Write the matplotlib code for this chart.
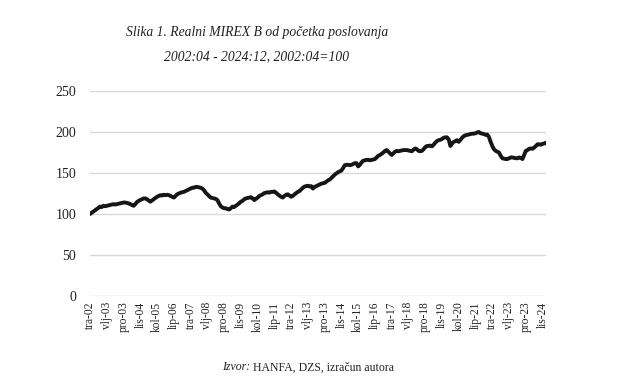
import matplotlib
matplotlib.use("Agg")
import matplotlib.pyplot as plt
import numpy as np

y2002 = [100, 101.5, 103, 104.5, 106, 107.5, 109, 108.5, 110]
y2003 = [109.5, 110, 110.5, 111, 111.5, 112, 111.5, 112, 112.5, 113, 113.5, 114]
y2004 = [114, 113.5, 113, 112, 111, 110, 112, 114.5, 116, 117, 118, 119]
y2005 = [119, 118, 116.5, 115, 116.5, 118, 119.5, 121, 122, 123, 122.5, 123.5]
y2006 = [123, 123.5, 123, 122, 121, 120, 122, 124, 125, 126, 126.5, 127]
y2007 = [128, 129, 130, 131, 132, 132, 133, 133, 132.5, 132, 131, 129]
y2008 = [126, 124, 122, 120, 119.5, 119, 118.5, 117, 113, 109.5, 108, 107]
y2009 = [107, 106, 105.5, 107, 109, 108.5, 110, 111.5, 113, 115, 116, 118]
y2010 = [119, 119.5, 120, 120.5, 119, 117, 118.5, 120, 122, 123, 124, 125.5]
y2011 = [126, 126.5, 126, 127, 127, 127.5, 126, 124, 122.5, 121, 120, 122]
y2012 = [123.5, 124, 122.5, 121, 122, 124, 125.5, 127, 128, 130, 132, 133.5]
y2013 = [134, 134.5, 133.5, 134, 131, 133, 134, 135, 136, 137, 137.5, 138]
y2014 = [139.5, 141, 142, 144, 146, 148, 149.5, 151, 152, 153, 156, 159.5]
y2015 = [160, 160, 159.5, 160, 161, 162, 162, 158, 160, 163, 165, 165.5]
y2016 = [166, 166, 165.5, 166, 166.5, 167, 169, 171, 172, 173.5, 175, 177]
y2017 = [178, 176, 174, 172, 174, 176, 177, 176.5, 177, 177.5, 178, 178]
y2018 = [178, 177.5, 177, 176.5, 178.5, 180, 179, 177, 176.5, 177, 179, 181.5]
y2019 = [183, 183, 183.5, 182.5, 184.5, 187, 189, 190, 190.5, 191.5, 193, 193.5]
y2020 = [193.5, 191, 183, 186, 188, 189, 190, 188, 190.5, 193, 195, 196]
y2021 = [196.5, 197, 197.5, 198, 198, 198.5, 199.5, 200, 198.5, 198, 197.5, 196.5]
y2022 = [197, 194, 188, 183, 179, 177, 176, 175, 171, 168, 167.5, 167]
y2023 = [167, 168, 169, 169, 168.5, 168, 168, 169, 168.5, 167, 172, 177]
y2024 = [178, 179.5, 180, 179.5, 181, 183, 185, 185, 184.5, 185.5, 186, 187]

values = (y2002 + y2003 + y2004 + y2005 + y2006 + y2007 + y2008 + y2009 + y2010 +
          y2011 + y2012 + y2013 + y2014 + y2015 + y2016 + y2017 + y2018 + y2019 +
          y2020 + y2021 + y2022 + y2023 + y2024)

tick_labels = ["tra-02", "vlj-03", "pro-03", "lis-04", "kol-05", "lip-06", "tra-07",
               "vlj-08", "pro-08", "lis-09", "kol-10", "lip-11", "tra-12", "vlj-13",
               "pro-13", "lis-14", "kol-15", "lip-16", "tra-17", "vlj-18", "pro-18",
               "lis-19", "kol-20", "lip-21", "tra-22", "vlj-23", "pro-23", "lis-24"]
y_ticks = [0, 50, 100, 150, 200, 250]

serif = ["Liberation Serif", "DejaVu Serif"]

fig = plt.figure(figsize=(6.22, 3.86), dpi=100)
ax = fig.add_axes([0.1447, 0.2332, 0.733, 0.531])

x = np.arange(len(values))
ax.plot(x, values, color="#161616", linewidth=2.8, solid_joinstyle="round",
        solid_capstyle="round", zorder=3)

ax.set_ylim(0, 250)
ax.set_xlim(0, len(values) - 1)
ax.set_yticks(y_ticks)
ax.set_yticklabels([str(v) for v in y_ticks], fontfamily=serif, fontsize=10,
                   color="#222222")
ax.set_xticks(np.arange(0, len(values), 10)[:len(tick_labels)])
ax.set_xticklabels(tick_labels, rotation=90, fontfamily=serif, fontsize=8.3,
                   color="#222222")
ax.tick_params(axis="both", length=0)
ax.tick_params(axis="y", pad=10)
ax.tick_params(axis="x", pad=4)
ax.grid(axis="y", color="#d9d9d9", linewidth=1.0)
ax.set_axisbelow(True)
for s in ax.spines.values():
    s.set_visible(False)

fig.text(0.413, 0.915, "Slika 1. Realni MIREX B od početka poslovanja",
         ha="center", va="center", fontfamily=serif, style="italic", fontsize=9.8,
         color="#222222")
fig.text(0.413, 0.852, "2002:04 - 2024:12, 2002:04=100",
         ha="center", va="center", fontfamily=serif, style="italic", fontsize=9.8,
         color="#222222")

t1 = fig.text(0.357, 0.048, "Izvor:", ha="left", va="center", fontfamily=serif,
              style="italic", fontsize=8.5, color="#222222")
fig.canvas.draw()
bb = t1.get_window_extent()
x2 = fig.transFigure.inverted().transform((bb.x1, bb.y0))[0]
fig.text(x2 + 0.004, 0.048, "HANFA, DZS, izračun autora", ha="left", va="center",
         fontfamily=serif, fontsize=8.5, color="#222222")

fig.savefig("out.png", dpi=100)
